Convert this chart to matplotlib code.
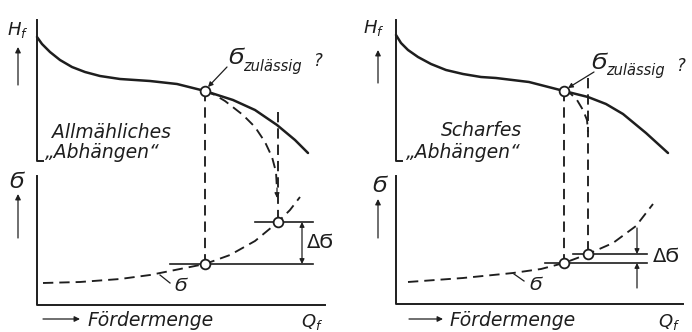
import numpy as np
import matplotlib.pyplot as plt

plt.rcParams['mathtext.fontset'] = 'dejavusans'

INK = '#1e1e1e'
FONT = dict(family='DejaVu Sans', style='oblique', color=INK)

# drawing units: ~1 unit per pixel, x to the right, y downwards, per panel
# head curve H_f over Q_f
h_x = [[37, 42, 50, 60, 72, 85, 100, 120, 150, 177, 205, 233, 255, 277, 295, 308],
       [50, 55, 62, 72, 85, 100, 117, 135, 150, 183, 218, 242, 260, 277, 300, 322]]
h_y = [[37, 44, 52, 60, 67, 72, 76, 79, 81, 84, 91, 100, 110, 125, 140, 153],
       [35, 43, 50, 57, 64, 70, 74, 77, 78, 82, 91, 97, 104, 114, 133, 153]]

# dashed "falling off" branch after the permissible point
drop_x = [[205, 215, 225, 243, 255, 265, 272, 276, 277],
          [218, 225, 231, 237, 241, 242]]
drop_y = [[91, 95, 101, 115, 127, 142, 157, 172, 190],
          [91, 94, 100, 110, 120, 132]]

# dashed stress curve
sig_x = [[43, 80, 120, 150, 180, 205, 230, 255, 278, 290, 300],
         [62, 117, 167, 195, 218, 242, 267, 290, 307]]
sig_y = [[283, 282, 279, 275, 269, 264, 255, 241, 222, 210, 197],
         [282, 278, 273, 269, 263, 254, 243, 226, 204]]

# operating points: permissible point and shifted point
q_zul = [205, 218]
q_end = [278, 242]
h_zul_y = [91, 91]
sig_zul_y = [264, 263]
sig_end_y = [222, 254]

title_lines = [['Allmähliches', '\u201eAbhängen\u201c'],
               ['Scharfes', '\u201eAbhängen\u201c']]

fig = plt.figure(figsize=(6.92, 3.32), dpi=100)
axes = [fig.add_axes([0, 0, 0.5, 1]), fig.add_axes([0.5, 0, 0.5, 1])]

ax_x = [37, 50]
hf_xy = [(18, 30), (28, 28)]
arr_x = [18, 32]
up_top = [(85, 47), (83, 50)]
sg_lab = [(17, 182), (34, 186)]
sg_arr = [(238, 194), (238, 199)]
lo_end = [325, 337]
lo_y = [305, 304]
t_xy = [[(52, 132), (45, 153)], [(95, 130), (60, 152)]]
zul_x = [228, 245]
zul_y = [58, 63]
lead = [((227, 67), (208, 87)), ((248, 72), (222, 88))]
siglab = [((160, 275), (170, 283), (181, 286)), ((168, 274), (178, 281), (190, 285))]
hl_left = [[170, 255], [199, 227]]
hl_right = [313, 301]
dg_xy = [(307, 243), (307, 257)]
fm_arrow = [(43, 80), (63, 97)]
qf_x = [312, 323]

AX_LW = 1.4
DASH_LW = 1.35
DASHES = (5.5, 3.2)
ARROW = dict(color=INK, lw=0.9, shrinkA=0, shrinkB=0)

for i, ax in enumerate(axes):
    ax.set_xlim(0, 346)
    ax.set_ylim(332, 0)
    ax.axis('off')
    x0 = ax_x[i]

    # axes of the sketch
    ax.plot([x0, x0, x0 + 6], [20, 161, 161], color=INK, lw=AX_LW)
    ax.plot([x0, x0, lo_end[i]], [176, lo_y[i], lo_y[i]], color=INK, lw=AX_LW)

    ax.text(*hf_xy[i], '$H_f$', fontsize=13, ha='center', va='center', color=INK)
    ax.annotate('', xy=(arr_x[i], up_top[i][1]), xytext=(arr_x[i], up_top[i][0]),
                arrowprops=dict(arrowstyle='-|>', mutation_scale=8, **ARROW))
    ax.text(*sg_lab[i], '\u03ec', fontsize=15, ha='center', va='center', **FONT)
    ax.annotate('', xy=(arr_x[i], sg_arr[i][1]), xytext=(arr_x[i], sg_arr[i][0]),
                arrowprops=dict(arrowstyle='-|>', mutation_scale=8, **ARROW))

    # curves
    ax.plot(h_x[i], h_y[i], color=INK, lw=1.8, solid_capstyle='round', solid_joinstyle='round')
    ax.plot(drop_x[i], drop_y[i], color=INK, lw=DASH_LW, dashes=DASHES)
    ax.plot(sig_x[i], sig_y[i], color=INK, lw=DASH_LW, dashes=DASHES)
    if i == 0:
        ax.annotate('', xy=(drop_x[i][-1], drop_y[i][-1] + 8),
                    xytext=(drop_x[i][-1], drop_y[i][-1] - 2),
                    arrowprops=dict(arrowstyle='-|>', mutation_scale=7, **ARROW))

    # vertical projections
    ax.plot([q_zul[i], q_zul[i]], [h_zul_y[i], sig_zul_y[i]], color=INK, lw=DASH_LW, dashes=DASHES)
    top_end = 112 if i == 0 else 78
    ax.plot([q_end[i], q_end[i]], [top_end, sig_end_y[i]], color=INK, lw=DASH_LW, dashes=DASHES)

    # horizontal reference lines
    ax.plot([hl_left[i][0], hl_right[i]], [sig_zul_y[i]] * 2, color=INK, lw=1.2)
    ax.plot([hl_left[i][1], hl_right[i]], [sig_end_y[i]] * 2, color=INK, lw=1.2)

    # circles
    ax.plot([q_zul[i], q_zul[i], q_end[i]], [h_zul_y[i], sig_zul_y[i], sig_end_y[i]],
            'o', ms=7, mfc='white', mec=INK, mew=1.3, zorder=5)

    # delta sigma
    if i == 0:
        ax.annotate('', xy=(302, sig_end_y[i]), xytext=(302, sig_zul_y[i]),
                    arrowprops=dict(arrowstyle='<|-|>', mutation_scale=7, **ARROW))
    else:
        ax.annotate('', xy=(291, sig_end_y[i]), xytext=(291, 228),
                    arrowprops=dict(arrowstyle='-|>', mutation_scale=7, **ARROW))
        ax.annotate('', xy=(291, sig_zul_y[i]), xytext=(291, 288),
                    arrowprops=dict(arrowstyle='-|>', mutation_scale=7, **ARROW))
    ax.text(*dg_xy[i], '\u0394\u03ec', fontsize=14, ha='left', va='center',
            family='DejaVu Sans', color=INK)

    # sigma_zul label
    ax.text(zul_x[i], zul_y[i], '\u03ec', fontsize=16, ha='left', va='center', **FONT)
    ax.text(zul_x[i] + 15, zul_y[i] + 8, 'zulässig', fontsize=10.5, ha='left', va='center', **FONT)
    ax.text(zul_x[i] + 86, zul_y[i] + 3, '?', fontsize=12, ha='left', va='center', **FONT)
    ax.annotate('', xy=lead[i][1], xytext=lead[i][0],
                arrowprops=dict(arrowstyle='-|>', mutation_scale=7, **ARROW))

    # label on stress curve
    (a, b, c) = siglab[i]
    ax.plot([a[0], b[0]], [a[1], b[1]], color=INK, lw=0.9)
    ax.text(*c, '\u03ec', fontsize=13, ha='center', va='center', **FONT)

    # panel titles
    for (tx, ty), s in zip(t_xy[i], title_lines[i]):
        ax.text(tx, ty, s, fontsize=13.5, ha='left', va='center', **FONT)

    # x label
    fa, fb = fm_arrow[i]
    ax.annotate('', xy=(fb, 319), xytext=(fa, 319),
                arrowprops=dict(arrowstyle='-|>', mutation_scale=8, **ARROW))
    ax.text(fb + 7, 321, 'Fördermenge', fontsize=13.5, ha='left', va='center', **FONT)
    ax.text(qf_x[i], 322, '$Q_f$', fontsize=13, ha='center', va='center', color=INK)

fig.savefig('out.png', dpi=100)
